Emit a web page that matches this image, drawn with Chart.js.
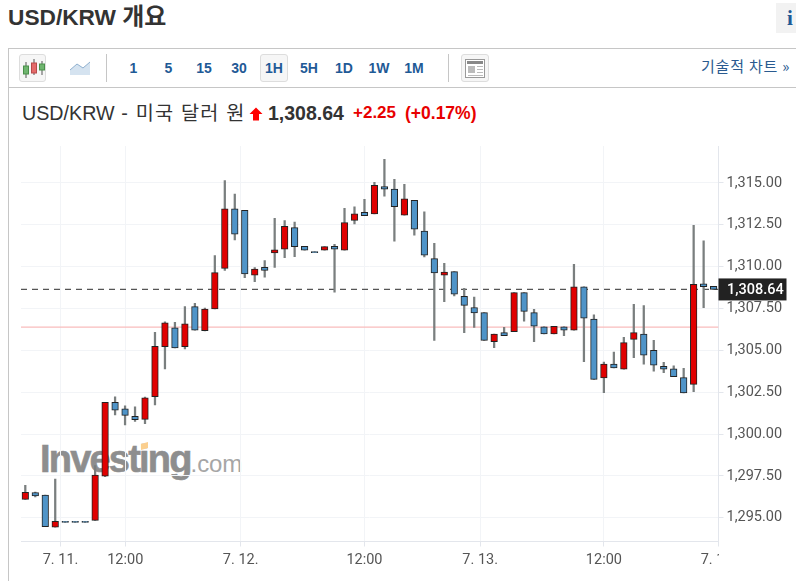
<!DOCTYPE html>
<html><head><meta charset="utf-8">
<script src="https://cdn.jsdelivr.net/npm/chart.js@4"></script>
<style>
html,body{margin:0;padding:0;background:#fff;overflow:hidden}
body{width:796px;height:581px;position:relative;font-family:"Liberation Sans","Noto Sans CJK KR",sans-serif;color:#333}
.a{position:absolute;white-space:nowrap}
.tf{font-weight:bold;font-size:14px;color:#1f5a96;top:60px;transform:translateX(-50%)}
.ln{background:#c6c6c6}
.btn{border:1px solid #ddd;border-radius:3px;box-sizing:border-box;background:#f6f6f6}
canvas{position:absolute;left:0;top:0}
</style></head><body>
<div class="a" style="left:8px;top:2px;font-size:22.7px;font-weight:bold;line-height:30px;font-family:'Liberation Sans','Noto Sans CJK KR'">USD/KRW <span style="font-size:24px">개요</span></div>
<div class="a" style="left:776px;top:3px;width:20px;height:30px;background:#f2f2f2"></div>
<div class="a" style="left:787px;top:6px;font:bold 21px/24px 'Liberation Serif';color:#1f5a96">i</div>
<div class="a ln" style="left:8px;top:48px;width:788px;height:1px"></div>
<div class="a ln" style="left:8px;top:87px;width:788px;height:1px"></div>
<div class="a ln" style="left:8px;top:48px;width:1px;height:533px"></div>
<div class="a btn" style="left:19px;top:54px;width:27px;height:28px"></div>
<svg class="a" style="left:19px;top:54px" width="27" height="28">
<g stroke="#555" stroke-width="1"><path d="M7 8v16M15 5v16M23 7v14"/></g>
<rect x="4.5" y="12" width="5" height="8" fill="#6fb56f" stroke="#4a8f4a"/><rect x="12.5" y="9" width="5" height="10" fill="#e46a6a" stroke="#b84a4a"/><rect x="20.5" y="10" width="5" height="6" fill="#6fb56f" stroke="#4a8f4a"/></svg>
<svg class="a" style="left:69px;top:60px" width="22" height="17"><path d="M1 15V10L8 4l6 4 7-6v13z" fill="#d5e3f0"/><path d="M1 10L8 4l6 4 7-6" fill="none" stroke="#8fb0cf"/></svg>
<div class="a ln" style="left:106px;top:54px;width:1px;height:28px"></div>
<div class="a tf" style="left:133.5px">1</div><div class="a tf" style="left:168.5px">5</div><div class="a tf" style="left:204px">15</div><div class="a tf" style="left:239px">30</div>
<div class="a btn" style="left:260px;top:54px;width:28px;height:28px"></div>
<div class="a tf" style="left:274px">1H</div><div class="a tf" style="left:309px">5H</div><div class="a tf" style="left:344px">1D</div><div class="a tf" style="left:379px">1W</div><div class="a tf" style="left:414px">1M</div>
<div class="a ln" style="left:448px;top:54px;width:1px;height:28px"></div>
<div class="a btn" style="left:461px;top:54px;width:28px;height:28px"></div>
<svg class="a" style="left:461px;top:54px" width="28" height="28"><rect x="4.5" y="5.5" width="19" height="18" fill="#fff" stroke="#999"/><rect x="6" y="7" width="16" height="3" fill="#888"/><rect x="7" y="12" width="7" height="7" fill="#bbb"/><path d="M16 12.5h6M16 15.5h6M16 18.5h6M7 21.5h15" stroke="#bbb"/></svg>
<div class="a" style="left:701px;top:57px;font-size:15px;letter-spacing:.8px;line-height:18px;color:#2a5a8f;font-family:'Noto Sans CJK KR','Liberation Sans'">기술적 차트 »</div>
<div class="a" style="left:22px;top:101px;font-size:19.7px;line-height:24px;color:#333">USD/KRW<span style="letter-spacing:1.2px"> - 미국 달러 원</span></div>
<svg class="a" style="left:249px;top:107px" width="14" height="14"><path d="M7 0.5L13.5 7H10V13.5H4V7H0.5z" fill="#f00"/></svg>
<div class="a" style="left:268px;top:101px;font-size:19.5px;line-height:24px;font-weight:bold;color:#333">1,308.64</div>
<div class="a" style="left:353px;top:102px;font-size:17px;line-height:22px;font-weight:bold;color:#e80000">+2.25</div>
<div class="a" style="left:405px;top:102px;font-size:17.5px;line-height:22px;font-weight:bold;color:#e80000">(+0.17%)</div>
<div class="a" style="left:40px;top:435px;font:bold 38px/48px 'Liberation Sans';letter-spacing:-1.8px;color:#8e8e8e;-webkit-text-stroke:.6px #8e8e8e">Investing<span style="font-weight:normal;font-size:24px;letter-spacing:-.1px;color:#a6a6a6;-webkit-text-stroke:0">.com</span></div>
<div class="a" style="left:141px;top:443px;width:7px;height:6px;background:#fbcf8e;transform:skewY(-15deg)"></div>
<canvas id="c" width="796" height="581"></canvas>
<div class="a" style="left:719px;top:546px;width:60px;height:24px;background:#fff"></div>
<script>
const opens=[1296.10,1296.51,1296.36,1294.44,1294.78,1294.78,1294.78,1294.84,1297.49,1301.90,1301.50,1301.06,1300.88,1302.23,1305.22,1306.35,1305.22,1307.61,1306.18,1307.47,1309.90,1313.45,1313.37,1309.49,1309.96,1310.82,1311.04,1312.33,1311.22,1310.90,1310.98,1311.22,1310.98,1312.77,1313.25,1313.15,1314.78,1314.64,1313.07,1313.97,1312.12,1310.48,1309.49,1309.70,1308.23,1307.56,1307.25,1305.52,1306.06,1306.12,1308.45,1307.25,1306.41,1305.98,1306.41,1306.20,1308.80,1306.87,1303.35,1304.18,1303.87,1305.66,1305.98,1305.00,1304.05,1303.89,1303.37,1302.97,1308.97,1308.83];
const highs=[1296.94,1296.54,1296.36,1297.31,1294.78,1294.78,1294.78,1298.11,1301.90,1302.23,1301.69,1301.62,1302.21,1306.08,1306.70,1306.68,1307.61,1307.81,1307.53,1310.66,1315.14,1314.33,1313.37,1309.94,1310.36,1312.89,1312.75,1312.67,1311.22,1310.90,1311.20,1311.34,1313.49,1313.57,1314.03,1315.04,1316.42,1315.22,1314.92,1313.97,1313.27,1311.40,1310.20,1309.70,1308.71,1308.19,1307.25,1305.98,1306.38,1308.45,1308.45,1307.45,1306.41,1306.44,1306.41,1310.14,1308.80,1307.13,1304.30,1304.90,1305.78,1307.75,1307.67,1305.60,1304.29,1304.08,1303.93,1312.47,1311.55,1308.83];
const lows=[1296.10,1296.25,1294.46,1294.44,1294.72,1294.72,1294.72,1294.84,1297.45,1301.14,1300.54,1300.76,1300.62,1301.74,1303.89,1305.14,1305.08,1306.20,1306.16,1307.47,1309.78,1311.60,1309.34,1309.10,1309.37,1309.96,1310.54,1310.60,1310.98,1310.84,1310.98,1308.47,1310.98,1312.55,1313.05,1313.15,1314.21,1311.52,1313.07,1311.88,1310.58,1305.60,1307.91,1308.25,1306.06,1306.37,1305.60,1305.16,1305.88,1306.12,1306.74,1305.52,1305.98,1305.98,1305.88,1306.20,1304.32,1303.27,1302.47,1303.95,1303.87,1304.56,1304.18,1303.75,1303.67,1303.43,1302.45,1302.53,1307.55,1308.64];
const closes=[1296.52,1296.31,1294.46,1294.78,1294.72,1294.72,1294.72,1297.55,1301.90,1301.42,1301.12,1300.86,1302.17,1305.24,1306.65,1305.14,1306.58,1306.20,1307.47,1309.64,1313.45,1311.94,1309.56,1309.86,1309.78,1311.00,1312.41,1311.20,1310.98,1310.84,1311.20,1311.04,1312.63,1313.15,1313.05,1314.86,1314.63,1313.59,1314.05,1312.24,1310.68,1309.62,1309.67,1308.35,1307.69,1307.23,1305.60,1305.98,1305.88,1308.45,1307.33,1306.44,1305.98,1306.44,1306.20,1308.80,1306.93,1303.27,1304.18,1303.95,1305.46,1306.06,1304.71,1304.11,1303.87,1303.43,1302.45,1308.95,1308.80,1308.64];
const yTicks=[1295,1297.5,1300,1302.5,1305,1307.5,1310,1312.5,1315];
const xTickPositions=[3.53,10.02,21.59,34,45.6,58,69.49];
const xTickLabels=['7. 11.','12:00','7. 12.','12:00','7. 13.','12:00','7. 14.'];
const lastPrice=1308.64, prevClose=1306.39;
const xMin=-0.431, xMax=69.49, yMin=1293.58, yMax=1317.21;

const fmt=v=>v.toLocaleString('en-US',{minimumFractionDigits:2,maximumFractionDigits:2});
const priceBox={id:'priceBox',afterDraw(ch){
  const y=ch.scales.y.getPixelForValue(lastPrice),c=ch.ctx;
  c.save();c.fillStyle='#222';c.fillRect(718.5,y-11,68,22);
  c.fillStyle='#fff';c.font='500 14.5px Roboto';c.textAlign='left';c.textBaseline='middle';
  c.fillText(fmt(lastPrice),727,y+0.5);c.restore();
}};
new Chart(document.getElementById('c'),{
  type:'bar',
  data:{datasets:[
    {type:'line',data:[{x:xMin,y:prevClose},{x:xMax,y:prevClose}],borderColor:'#f9bcbc',borderWidth:1.2,pointRadius:0,order:5},
    {type:'line',data:[{x:xMin,y:lastPrice},{x:xMax,y:lastPrice}],borderColor:'#555',borderWidth:1.2,borderDash:[6,5],pointRadius:0,order:4},
    {data:highs.map((h,i)=>({x:i,y:[lows[i],h]})),backgroundColor:'#7a7f7f',borderWidth:0,barThickness:1.6,grouped:false,order:3},
    {data:opens.map((o,i)=>({x:i,y:[o,closes[i]]})),
     backgroundColor:opens.map((o,i)=>closes[i]>o?'#e00000':'#4f94c8'),
     borderColor:'#222',borderWidth:1,borderSkipped:false,barThickness:6.6,grouped:false,order:1}
  ]},
  options:{
    responsive:false,animation:false,
    layout:{padding:{left:21,top:146,right:0,bottom:0}},
    plugins:{legend:{display:false},tooltip:{enabled:false}},
    scales:{
      x:{type:'linear',min:xMin,max:xMax,offset:false,
        afterBuildTicks:s=>{s.ticks=xTickPositions.map(v=>({value:v}))},
        afterFit:s=>{s.height=39.5},
        grid:{color:'#f2f4f7',tickColor:'#e3e6ec',tickLength:5,offset:false},
        border:{color:'#e3e6ec'},
        ticks:{autoSkip:false,maxRotation:0,padding:5,color:'#555',font:{family:'Roboto',size:14.5},
          callback:(v)=>xTickLabels[xTickPositions.indexOf(v)]}},
      y:{position:'right',min:yMin,max:yMax,
        afterBuildTicks:s=>{s.ticks=yTicks.map(v=>({value:v}))},
        afterFit:s=>{s.width=77.5},
        grid:{color:'#f2f4f7',tickColor:'#e3e6ec',tickLength:5},
        border:{color:'#e3e6ec'},
        ticks:{autoSkip:false,padding:3,labelOffset:0,color:'#555',font:{family:'Roboto',size:14.5},callback:v=>fmt(v)}}
    }
  },
  plugins:[priceBox]
});
</script>
</body></html>
